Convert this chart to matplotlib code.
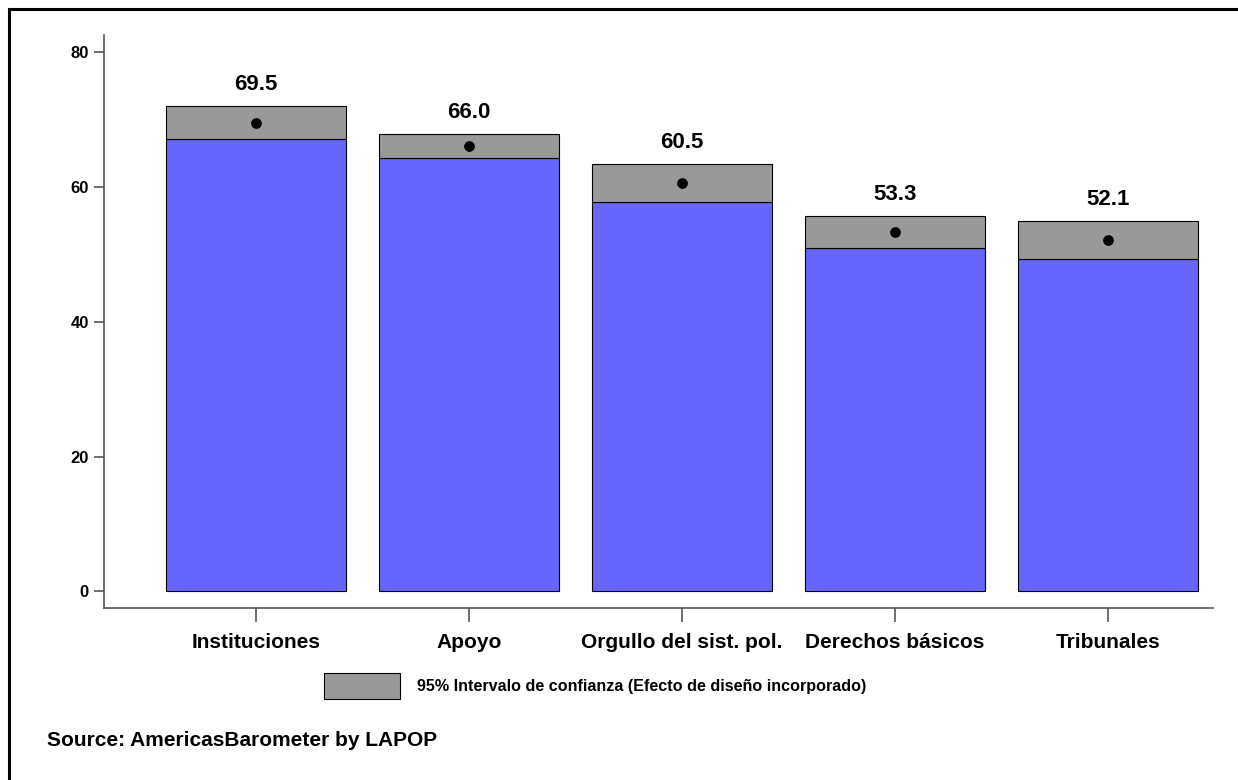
import matplotlib.pyplot as plt
import numpy as np
from matplotlib.patches import Rectangle
from matplotlib.lines import Line2D

plt.rcParams['font.family'] = ['Liberation Sans', 'DejaVu Sans']

categories = ["Instituciones", "Apoyo", "Orgullo del sist. pol.", "Derechos básicos", "Tribunales"]
means = [69.5, 66.0, 60.5, 53.3, 52.1]
ci_low = [67.1, 64.3, 57.7, 51.0, 49.3]
ci_high = [72.0, 67.8, 63.4, 55.7, 54.9]

fig = plt.figure(figsize=(12.38, 7.8), dpi=100)
ax = fig.add_axes([0.084, 0.221, 0.896, 0.734])

x = np.arange(len(categories))
w = 0.845
ax.bar(x, ci_low, width=w, color="#6666FF", edgecolor="black", linewidth=0.8)
ax.bar(x, np.array(ci_high) - np.array(ci_low), bottom=ci_low, width=w,
       color="#999999", edgecolor="black", linewidth=0.8)
ax.scatter(x, means, color="black", s=45, zorder=3)
for xi, m, hi in zip(x, means, ci_high):
    ax.text(xi, hi + 1.6, f"{m:.1f}", ha="center", va="bottom",
            fontsize=16, fontweight="bold")

ax.set_xlim(-0.714, 4.493)
ax.set_ylim(-2.4, 82.5)
ax.set_yticks([0, 20, 40, 60, 80])
ax.set_xticks(x)
ax.set_xticklabels(categories, fontsize=15, fontweight="bold")
for lab in ax.get_yticklabels():
    lab.set_fontweight("bold")
    lab.set_fontsize(12)
ax.tick_params(axis="y", length=7, width=1.2, color="#555555", pad=4)
ax.tick_params(axis="x", length=10, width=1.2, color="#555555", pad=8)
for s in ["top", "right"]:
    ax.spines[s].set_visible(False)
for s in ["left", "bottom"]:
    ax.spines[s].set_color("#555555")
    ax.spines[s].set_linewidth(1.2)

# legend
fig.patches.append(Rectangle((324 / 1238, 1 - 699 / 780), 76 / 1238, 26 / 780,
                             transform=fig.transFigure, facecolor="#999999",
                             edgecolor="black", linewidth=0.8))
fig.text(417 / 1238, 1 - 687 / 780, "95% Intervalo de confianza (Efecto de diseño incorporado)",
         fontsize=11.6, fontweight="bold", va="center")

fig.text(47 / 1238, 1 - 741 / 780, "Source: AmericasBarometer by LAPOP",
         fontsize=15, fontweight="bold", va="center")

# outer frame (top and left edges)
fig.lines.append(Line2D([9 / 1238, 9 / 1238], [0, 1 - 9 / 780], transform=fig.transFigure,
                        color="black", linewidth=2.2))
fig.lines.append(Line2D([9 / 1238, 1], [1 - 9 / 780, 1 - 9 / 780], transform=fig.transFigure,
                        color="black", linewidth=2.2))

fig.savefig("out.png", dpi=100)
